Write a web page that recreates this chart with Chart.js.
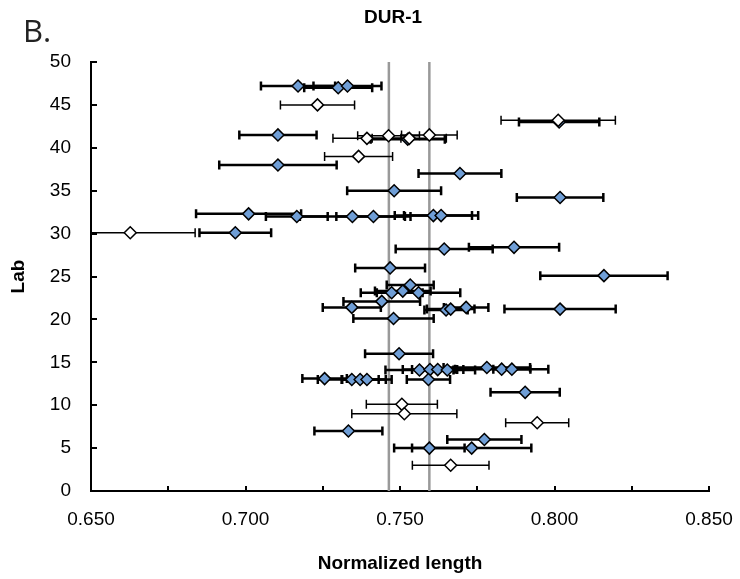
<!DOCTYPE html>
<html lang="en">
<head>
    <meta charset="UTF-8">
    <title>DUR-1</title>
    <script src="https://cdn.jsdelivr.net/npm/chart.js"></script>
    <style>
        body { margin: 0; background: #fff; }
        #wrap { position: relative; width: 740px; height: 579px; }
        #panel { position: absolute; left: 23px; top: 15px; font: 31px "Open Sans"; line-height: 1; color: #222; }
    </style>
</head>
<body>
    <div id="wrap">
        <div id="panel">B.</div>
        <canvas id="durChart" width="740" height="579"></canvas>
    </div>

    <script>
        // labs with blue markers
        const blueX = [0.717, 0.730, 0.733, 0.7105, 0.7525, 0.8015, 0.7105, 0.7694, 0.7481, 0.8018,
                       0.701, 0.7166, 0.7346, 0.7414, 0.7608, 0.7633, 0.6967, 0.7643, 0.7869, 0.7468,
                       0.816, 0.7533, 0.7473, 0.7509, 0.756, 0.7441, 0.7344, 0.7649, 0.7664, 0.7714,
                       0.8018, 0.7479, 0.7497, 0.7563, 0.7597, 0.7622, 0.7653, 0.7781, 0.7829, 0.7862,
                       0.7256, 0.7344, 0.7371, 0.7393, 0.7592, 0.7905, 0.7333, 0.7773, 0.7595, 0.7732];
        const blueY = [47.2, 47.0, 47.2, 41.5, 41.0, 43.0, 38.0, 37.0, 35.0, 34.2,
                       32.3, 32.0, 32.0, 32.0, 32.1, 32.1, 30.1, 28.2, 28.4, 26.0,
                       25.1, 24.0, 23.1, 23.3, 23.1, 22.1, 21.4, 21.1, 21.2, 21.4,
                       21.2, 20.1, 16.0, 14.1, 14.15, 14.15, 14.1, 14.4, 14.2, 14.2,
                       13.1, 13.0, 13.0, 13.0, 13.0, 11.5, 7.0, 6.0, 5.0, 5.0];
        const blueErr = [0.012, 0.011, 0.011, 0.0125, 0.012, 0.013, 0.019, 0.0134, 0.0152, 0.014,
                         0.017, 0.010, 0.017, 0.012, 0.0125, 0.012, 0.0116, 0.0157, 0.0146, 0.0113,
                         0.0206, 0.0076, 0.010, 0.009, 0.0135, 0.0124, 0.0094, 0.007, 0.0077, 0.0072,
                         0.018, 0.013, 0.011, 0.011, 0.0088, 0.0083, 0.009, 0.014, 0.0151, 0.006,
                         0.0072, 0.011, 0.006, 0.008, 0.007, 0.0112, 0.011, 0.012, 0.0114, 0.0193];

        // labs with open markers
        const whiteX = [0.7233, 0.7393, 0.7463, 0.753, 0.7595, 0.8012, 0.7366, 0.6627, 0.7506, 0.7514, 0.7944, 0.7664];
        const whiteY = [45.0, 41.1, 41.4, 41.1, 41.5, 43.2, 39.0, 30.1, 10.1, 9.0, 7.95, 3.0];
        const whiteErr = [0.012, 0.011, 0.010, 0.012, 0.009, 0.0185, 0.011, 0.021, 0.0115, 0.017, 0.0102, 0.0124];

        // vertical reference lines
        const refLines = [0.7464, 0.7595];

        const xMin = 0.65, xMax = 0.85, yMin = 0, yMax = 50;
        const fontFam = '"Liberation Sans", Arial, sans-serif';

        const toPoints = (xs, ys) => xs.map((v, i) => ({ x: v, y: ys[i] }));

        const errorBars = {
            id: 'errorBars',
            beforeDatasetDraw(chart, args) {
                const ds = chart.data.datasets[args.index];
                if (!ds.errors) return;
                const { ctx, chartArea, scales: { x, y } } = chart;
                ctx.save();
                ctx.beginPath();
                ctx.rect(chartArea.left, chartArea.top - 10, chartArea.width + 10, chartArea.height + 10);
                ctx.clip();
                ctx.strokeStyle = '#000';
                ctx.lineWidth = ds.errorWidth;
                ds.data.forEach((p, i) => {
                    const lo = x.getPixelForValue(p.x - ds.errors[i]);
                    const hi = x.getPixelForValue(p.x + ds.errors[i]);
                    const py = y.getPixelForValue(p.y);
                    ctx.beginPath();
                    ctx.moveTo(lo, py); ctx.lineTo(hi, py);
                    ctx.moveTo(lo, py - 4.5); ctx.lineTo(lo, py + 4.5);
                    ctx.moveTo(hi, py - 4.5); ctx.lineTo(hi, py + 4.5);
                    ctx.stroke();
                });
                ctx.restore();
            }
        };

        // inward tick marks + title
        const decorations = {
            id: 'decorations',
            afterDraw(chart) {
                const { ctx, chartArea, scales: { x, y } } = chart;
                ctx.save();
                ctx.strokeStyle = '#000';
                ctx.lineWidth = 2;
                ctx.beginPath();
                for (let v = xMin; v <= xMax + 1e-9; v += 0.025) {
                    const px = Math.round(x.getPixelForValue(v));
                    ctx.moveTo(px, chartArea.bottom); ctx.lineTo(px, chartArea.bottom - 5);
                }
                for (let v = yMin; v <= yMax; v += 5) {
                    const py = Math.round(y.getPixelForValue(v));
                    ctx.moveTo(chartArea.left, py); ctx.lineTo(chartArea.left + 6, py);
                }
                ctx.stroke();
                ctx.fillStyle = '#000';
                ctx.font = 'bold 19px ' + fontFam;
                ctx.textAlign = 'center';
                ctx.textBaseline = 'middle';
                ctx.fillText('DUR-1', 393, 18);
                ctx.restore();
            }
        };

        const datasets = [
            {
                label: 'open',
                data: toPoints(whiteX, whiteY),
                errors: whiteErr,
                errorWidth: 1.5,
                backgroundColor: '#ffffff',
                borderColor: '#000',
                borderWidth: 1.5,
                pointStyle: 'rectRot',
                pointRadius: 6,
                order: 0
            },
            {
                label: 'filled',
                data: toPoints(blueX, blueY),
                errors: blueErr,
                errorWidth: 2.5,
                backgroundColor: '#6f9ed6',
                borderColor: '#000',
                borderWidth: 1.5,
                pointStyle: 'rectRot',
                pointRadius: 6,
                order: 1
            }
        ];
        refLines.forEach(v => {
            datasets.push({
                type: 'line',
                label: 'ref',
                data: [{ x: v, y: yMin }, { x: v, y: yMax }],
                borderColor: '#999999',
                borderWidth: 2.5,
                pointRadius: 0,
                order: 3
            });
        });

        new Chart(document.getElementById('durChart'), {
            type: 'scatter',
            data: { datasets: datasets },
            options: {
                responsive: false,
                animation: false,
                layout: { padding: { top: 62, right: 31, left: 0, bottom: 0 } },
                plugins: { legend: { display: false }, tooltip: { enabled: false } },
                scales: {
                    x: {
                        type: 'linear', min: xMin, max: xMax,
                        grid: { display: false, drawTicks: false },
                        border: { display: true, color: '#000', width: 2 },
                        ticks: {
                            stepSize: 0.05, padding: 17, color: '#000',
                            font: { family: fontFam, size: 19 },
                            callback: v => v.toFixed(3)
                        },
                        title: {
                            display: true, text: 'Normalized length', color: '#000',
                            font: { family: fontFam, size: 19, weight: 'bold' },
                            padding: { top: 0, bottom: 4 }
                        },
                        afterFit: s => { s.height = 88; s.paddingLeft = 0; s.paddingRight = 0; }
                    },
                    y: {
                        type: 'linear', min: yMin, max: yMax,
                        grid: { display: false, drawTicks: false },
                        border: { display: true, color: '#000', width: 2 },
                        ticks: {
                            stepSize: 5, padding: 20, color: '#000',
                            font: { family: fontFam, size: 19 }
                        },
                        title: {
                            display: true, text: 'Lab', color: '#000',
                            font: { family: fontFam, size: 19, weight: 'bold' },
                            padding: { top: 7, bottom: 0 }
                        },
                        afterFit: s => { s.width = 91; }
                    }
                }
            },
            plugins: [errorBars, decorations]
        });
    </script>
</body>
</html>
